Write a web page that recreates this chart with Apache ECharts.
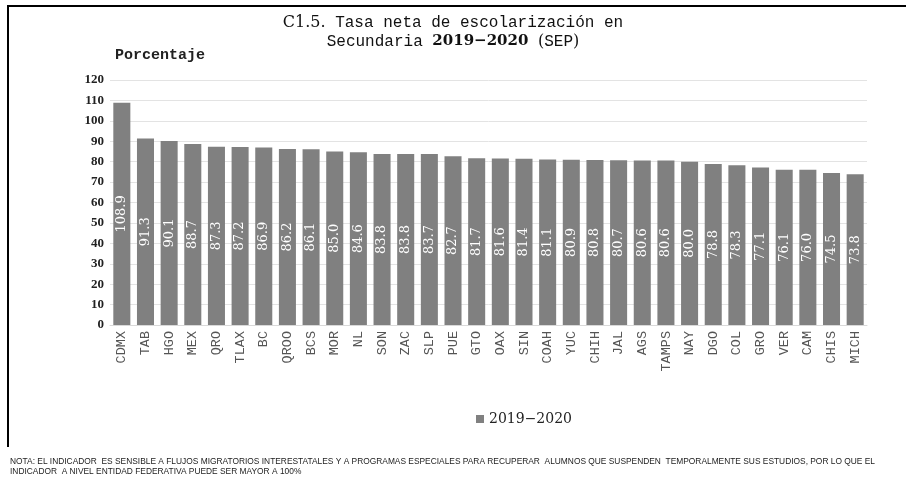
<!DOCTYPE html>
<html>
<head>
<meta charset="utf-8">
<script src="https://cdn.jsdelivr.net/npm/echarts@6/dist/echarts.min.js"></script>
<style>
  html, body { margin: 0; padding: 0; background: #fff; }
  #chart { width: 906px; height: 484px; }
</style>
</head>
<body>
<div id="chart"></div>
<script>
const states = ['CDMX','TAB','HGO','MEX','QRO','TLAX','BC','QROO','BCS','MOR','NL','SON','ZAC','SLP','PUE','GTO',
  'OAX','SIN','COAH','YUC','CHIH','JAL','AGS','TAMPS','NAY','DGO','COL','GRO','VER','CAM','CHIS','MICH'];
const rates = [108.9, 91.3, 90.1, 88.7, 87.3, 87.2, 86.9, 86.2, 86.1, 85.0, 84.6, 83.8, 83.8, 83.7, 82.7, 81.7,
  81.6, 81.4, 81.1, 80.9, 80.8, 80.7, 80.6, 80.6, 80.0, 78.8, 78.3, 77.1, 76.1, 76.0, 74.5, 73.8];
const seriesName = '2019\u22122020';
const note = [
  'NOTA: EL INDICADOR  ES SENSIBLE A FLUJOS MIGRATORIOS INTERESTATALES Y A PROGRAMAS ESPECIALES PARA RECUPERAR  ALUMNOS QUE SUSPENDEN  TEMPORALMENTE SUS ESTUDIOS, POR LO QUE EL',
  'INDICADOR  A NIVEL ENTIDAD FEDERATIVA PUEDE SER MAYOR A 100%'
];

const mono = '"Liberation Mono", "DejaVu Sans Mono", monospace';
const serif = '"Liberation Serif", serif';
const wideSerif = '"DejaVu Serif", serif';

const chart = echarts.init(document.getElementById('chart'));

chart.setOption({
  animation: false,
  title: {
    text: '{s|C1.5.} Tasa neta de escolarización en\nSecundaria {sb|2019\u22122020} {s|(}SEP{s|)}',
    left: 'center',
    top: 8,
    textStyle: {
      fontFamily: mono,
      fontSize: 16,
      fontWeight: 'normal',
      color: '#111',
      lineHeight: 19,
      rich: {
        s: { fontFamily: wideSerif, fontSize: 16, color: '#111' },
        sb: { fontFamily: wideSerif, fontSize: 15, fontWeight: 'bold', color: '#111' }
      }
    }
  },
  graphic: [
    { type: 'line', shape: { x1: 7, y1: 6, x2: 906, y2: 6 }, style: { stroke: '#000', lineWidth: 2 } },
    { type: 'line', shape: { x1: 8, y1: 5, x2: 8, y2: 447 }, style: { stroke: '#000', lineWidth: 2 } },
    { type: 'text', left: 115, top: 48, style: { text: 'Porcentaje', font: 'bold 15px ' + mono, fill: '#222' } },
    { type: 'text', left: 10, top: 457, style: { text: note.join('\n'), font: '8.4px "Liberation Sans", Arial, sans-serif', fill: '#222', lineHeight: 10 } }
  ],
  legend: {
    data: [seriesName],
    bottom: 53,
    left: 471,
    icon: 'rect',
    itemWidth: 8,
    itemHeight: 8,
    itemGap: 4,
    textStyle: { fontFamily: wideSerif, fontSize: 14, color: '#222' }
  },
  grid: { top: 80, bottom: 159, left: 110, right: 39 },
  xAxis: {
    type: 'category',
    data: states,
    axisLine: { lineStyle: { color: '#d9d9d9' } },
    axisTick: { show: false },
    axisLabel: { rotate: 90, margin: 6, fontFamily: mono, fontSize: 13.5, color: '#555', interval: 0 }
  },
  yAxis: {
    type: 'value',
    min: 0,
    max: 120,
    interval: 10,
    axisLine: { show: false },
    axisTick: { show: false },
    splitLine: { lineStyle: { color: '#e3e3e3' } },
    axisLabel: { margin: 6, fontFamily: serif, fontSize: 13, fontWeight: 'bold', color: '#222' }
  },
  series: [{
    name: seriesName,
    type: 'bar',
    data: rates,
    barCategoryGap: '28%',
    itemStyle: { color: '#808080' },
    label: {
      show: true,
      position: 'inside',
      rotate: 90,
      fontFamily: wideSerif,
      fontSize: 13,
      color: '#fff',
      formatter: (p) => p.value.toFixed(1)
    }
  }]
});
</script>
</body>
</html>
